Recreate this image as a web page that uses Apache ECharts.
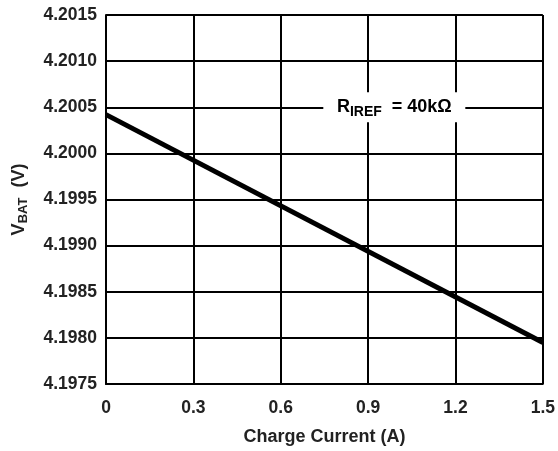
<!DOCTYPE html>
<html>
<head>
<meta charset="utf-8">
<script src="https://cdn.jsdelivr.net/npm/echarts@6/dist/echarts.min.js"></script>
<style>html,body{margin:0;padding:0;background:#fff;}#c{width:558px;height:451px;}</style>
</head>
<body>
<div id="c"></div>
<script>
const currentA = [0, 1.5];
const vbat = [4.20042, 4.19795];
const xTicks = [0, 0.3, 0.6, 0.9, 1.2, 1.5];
const yTicks = [4.1975, 4.1980, 4.1985, 4.1990, 4.1995, 4.2000, 4.2005, 4.2010, 4.2015];
const annot = { x: 0.99, y: 4.2005 };

const chart = echarts.init(document.getElementById('c'), null, {renderer: 'canvas'});
const font = 'Liberation Sans, Arial, Helvetica, sans-serif';
chart.setOption({
  animation: false,
  backgroundColor: '#fff',
  grid: {left: 106, right: 14, top: 15, bottom: 67},
  xAxis: {
    type: 'value', min: 0, max: 1.5, interval: 0.3,
    name: 'Charge Current (A)', nameLocation: 'middle', nameGap: 44,
    nameTextStyle: {fontFamily: font, fontWeight: 'bold', fontSize: 18, color: '#222'},
    axisLine: {show: true, lineStyle: {color: '#000', width: 2}},
    axisTick: {show: false},
    splitLine: {show: true, lineStyle: {color: '#000', width: 2}},
    axisLabel: {margin: 15, fontFamily: font, fontWeight: 'bold', fontSize: 17.5, color: '#222',
      formatter: v => { const t = xTicks.find(k => Math.abs(k - v) < 1e-6); return t === 0 ? '0' : t.toFixed(1); }}
  },
  yAxis: {
    type: 'value', min: yTicks[0], max: yTicks[yTicks.length - 1], interval: 0.0005,
    name: '{v|V}{s|BAT}{v|  (V)}', nameLocation: 'middle', nameGap: 76, nameRotate: 90,
    nameTextStyle: {rich: {
      v: {fontFamily: font, fontWeight: 'bold', fontSize: 18, color: '#222'},
      s: {fontFamily: font, fontWeight: 'bold', fontSize: 13, color: '#222', padding: [8, 0, 0, 0]}
    }},
    axisLine: {show: true, lineStyle: {color: '#000', width: 2}},
    axisTick: {show: false},
    splitLine: {show: true, lineStyle: {color: '#000', width: 2}},
    axisLabel: {margin: 9, fontFamily: font, fontWeight: 'bold', fontSize: 17.5, color: '#222',
      formatter: v => v.toFixed(4)}
  },
  series: [{
    type: 'line',
    data: currentA.map((x, i) => [x, vbat[i]]),
    showSymbol: false,
    lineStyle: {color: '#000', width: 5},
    markPoint: {
      symbol: 'rect', symbolSize: [142, 30],
      itemStyle: {color: '#fff'},
      label: {show: true, position: 'inside',
        formatter: '{r|R}{s|IREF}{r|  = 40kΩ}',
        rich: {
          r: {fontFamily: font, fontWeight: 'bold', fontSize: 18, color: '#000'},
          s: {fontFamily: font, fontWeight: 'bold', fontSize: 14, color: '#000', padding: [9, 0, 0, 0]}
        }},
      data: [{coord: [annot.x, annot.y]}]
    }
  }]
});
</script>
</body>
</html>
